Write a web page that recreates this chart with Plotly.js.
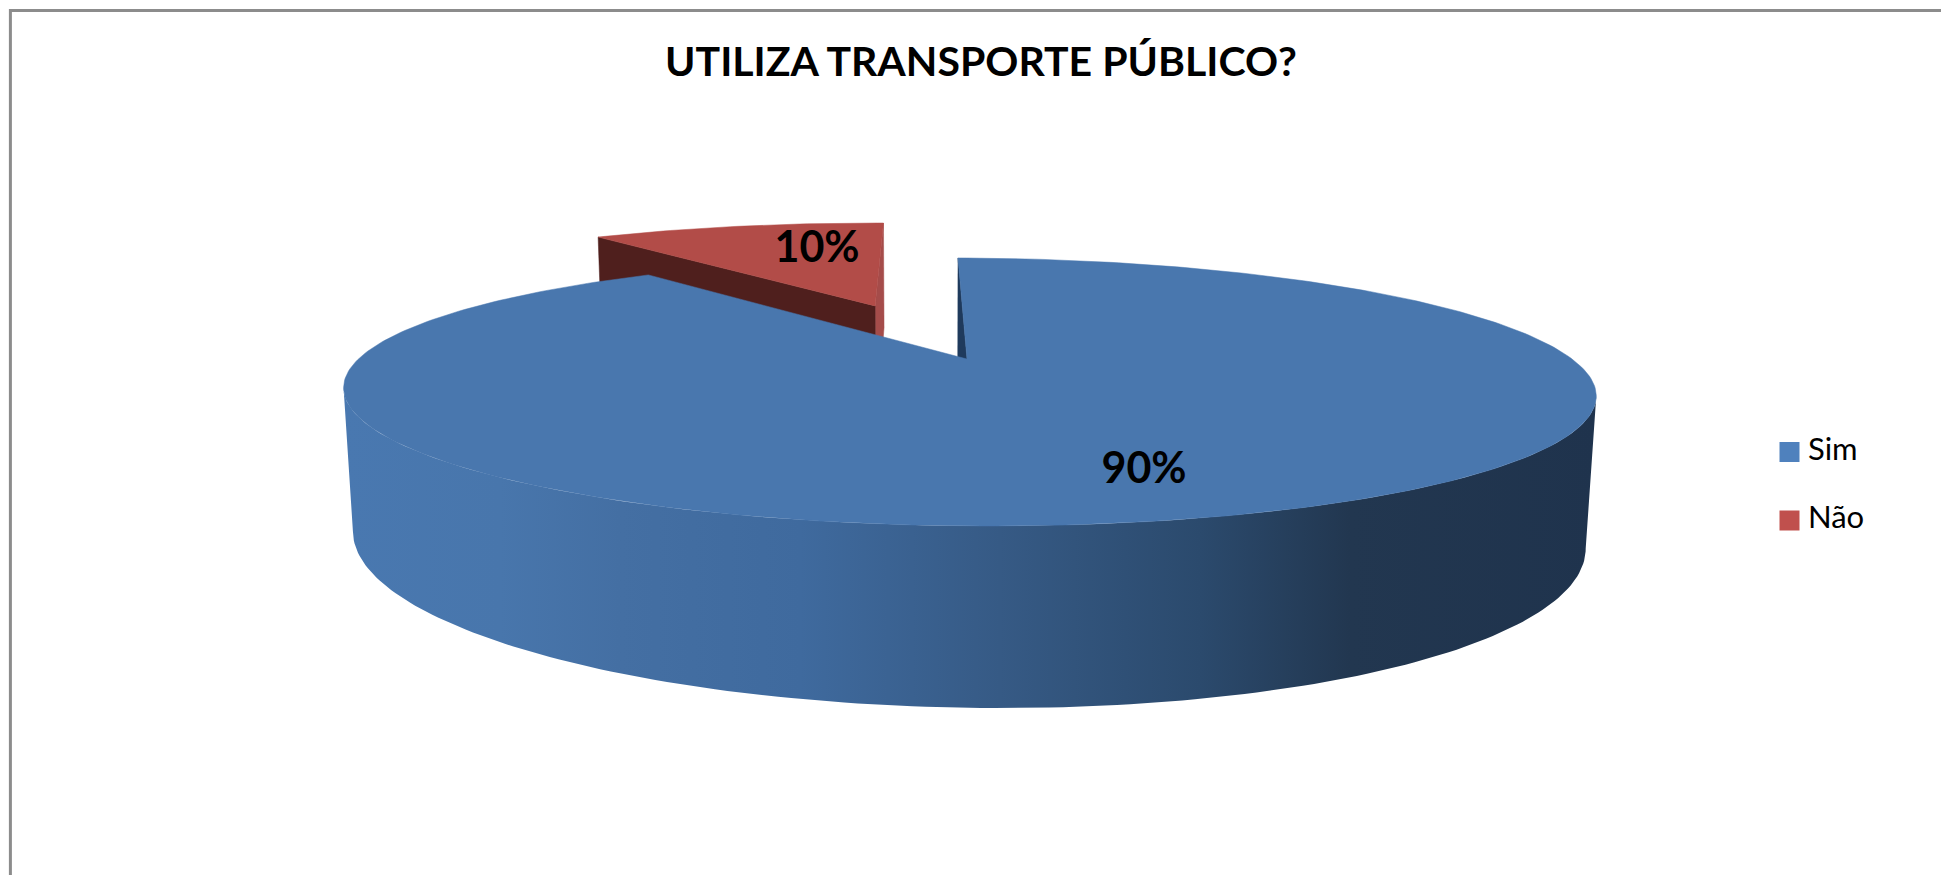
<!DOCTYPE html>
<html>
<head>
<meta charset="utf-8">
<script src="https://cdn.plot.ly/plotly-3.0.1.min.js"></script>
<style>html,body{margin:0;padding:0;background:#fff;overflow:hidden}</style>
</head>
<body>
<div id="chart" style="width:1941px;height:875px"></div>
<script>
var titleText = 'UTILIZA TRANSPORTE PÚBLICO?';
var categories = ['Sim', 'Não'];
var shareValues = [89.5, 10.49];

var topColors = ['#4977ae', '#b24c48'];
var legendColors = ['#4f81bd', '#c0504d'];
var redWallDark = '#4f1f1d';
var redWallLight = '#a54c4a';
var blueWallInner = '#1f3a5c';
var sideStart = 344, sideStop = 1597;
var sideStops = [[344,'rgb(73,120,176)'],[500,'rgb(72,118,172)'],[620,'rgb(68,111,163)'],[800,'rgb(63,106,158)'],
                 [1000,'rgb(54,90,133)'],[1200,'rgb(43,74,109)'],[1350,'rgb(34,55,80)'],[1597,'rgb(31,51,77)']];

// Perspective camera of the tilted 3D pie, in page pixels
var cam = {cx:967, cy:359, a:607, b:125.9, s:-11.2, k:0.246, m:0.0152, q:142.5, px:-0.5, t0:1.5, t1:5.5};
var EXPLODE = 0.495;

function project(u, v, z) {
  var w = 1 + cam.k * v + cam.m * z;
  var t = cam.t0 + (cam.t1 - cam.t0) * z;
  return [cam.cx + (cam.a * u + cam.s * v + cam.px * z) / w,
          cam.cy + (-cam.b * v + cam.q * z + t * u) / w];
}
function rim(deg, c, z) {
  var r = deg * Math.PI / 180;
  return project(c[0] + Math.sin(r), c[1] + Math.cos(r), z);
}
function poly(points, color) {
  var xs = points.map(function (p) { return p[0]; });
  var ys = points.map(function (p) { return p[1]; });
  xs.push(xs[0]); ys.push(ys[0]);
  return {type:'scatter', mode:'lines', x:xs, y:ys, fill:'toself', fillcolor:color,
          line:{color:color, width:0.5}, hoverinfo:'skip', showlegend:false};
}
// angles of the left and right silhouette points of a rim
function extremes(z) {
  var lo = 180, hi = 180;
  for (var a = 90; a <= 270; a += 0.25) {
    if (rim(a, [0, 0], z)[0] > rim(hi, [0, 0], z)[0]) hi = a;
    if (rim(a, [0, 0], z)[0] < rim(lo, [0, 0], z)[0]) lo = a;
  }
  return {right:hi, left:lo};
}

var total = shareValues[0] + shareValues[1];
var blueEnd = 360 * shareValues[0] / total;      // first slice runs clockwise from 12 o'clock
var midRed = (blueEnd + 360) / 2 * Math.PI / 180;
var blueC = [0, 0];
var redC = [EXPLODE * Math.sin(midRed), EXPLODE * Math.cos(midRed)];

var traces = [];
var STEP = 1;

// exploded red slice: walls, then top
traces.push(poly([project(redC[0], redC[1], 0), rim(360, redC, 0), rim(360, redC, 1), project(redC[0], redC[1], 1)], redWallLight));
traces.push(poly([project(redC[0], redC[1], 0), rim(blueEnd, redC, 0), rim(blueEnd, redC, 1), project(redC[0], redC[1], 1)], redWallDark));
var redTop = [project(redC[0], redC[1], 0)];
for (var d = blueEnd; d < 360; d += STEP) redTop.push(rim(d, redC, 0));
redTop.push(rim(360, redC, 0));
traces.push(poly(redTop, topColors[1]));

// inner cut wall of the blue slice
traces.push(poly([project(0, 0, 0), rim(0, blueC, 0), rim(0, blueC, 1), project(0, 0, 1)], blueWallInner));

// blue outer wall with a left-to-right shaded gradient
var topEx = extremes(0), botEx = extremes(1), sidePts = [], p;
for (p = topEx.right; p <= topEx.left; p += STEP) sidePts.push(rim(p, blueC, 0));
sidePts.push(rim(topEx.left, blueC, 0));
for (p = botEx.left; p >= botEx.right; p -= STEP) sidePts.push(rim(p, blueC, 1));
sidePts.push(rim(botEx.right, blueC, 1));
var side = poly(sidePts, '#36597f');
side.line = {width:0};
side.fillgradient = {type:'horizontal', start:sideStart, stop:sideStop,
  colorscale:sideStops.map(function (s) { return [(s[0] - sideStart) / (sideStop - sideStart), s[1]]; })};
traces.push(side);

// blue top
var blueTop = [project(0, 0, 0)];
for (var e = 0; e < blueEnd; e += STEP) blueTop.push(rim(e, blueC, 0));
blueTop.push(rim(blueEnd, blueC, 0));
traces.push(poly(blueTop, topColors[0]));

// slice labels
traces.push({type:'scatter', mode:'text', x:[1144, 817], y:[472, 251],
  text:shareValues.map(function (v) { return Math.round(v) + '%'; }),
  textposition:'middle center', textfont:{family:'Lato, sans-serif', size:43, color:'#000', weight:700},
  hoverinfo:'skip', showlegend:false});

// legend
traces.push({type:'scatter', mode:'markers', x:[1789.5, 1789.5], y:[452, 520.5],
  marker:{symbol:'square', size:20, color:legendColors, line:{width:0}},
  hoverinfo:'skip', showlegend:false});
traces.push({type:'scatter', mode:'text', x:[1808, 1808], y:[452, 520.5],
  text:categories, textposition:'middle right', textfont:{family:'Lato, sans-serif', size:31, color:'#000'},
  hoverinfo:'skip', showlegend:false});

var layout = {
  width:1941, height:875, autosize:false,
  margin:{l:0, r:0, t:0, b:0},
  paper_bgcolor:'#fff', plot_bgcolor:'#fff', showlegend:false,
  title:{text:'<b>' + titleText + '</b>', x:981/1941, xanchor:'center', y:1-62/875, yanchor:'middle',
         font:{family:'Lato, sans-serif', size:41, color:'#000'}},
  xaxis:{range:[0,1941], visible:false, fixedrange:true},
  yaxis:{range:[875,0], visible:false, fixedrange:true},
  shapes:[{type:'path', xref:'x', yref:'y', path:'M10.4,875 L10.4,10.4 L1941,10.4',
           line:{color:'#8c8c8c', width:3}}]
};
Plotly.newPlot('chart', traces, layout, {displayModeBar:false, staticPlot:true});
</script>
</body>
</html>
